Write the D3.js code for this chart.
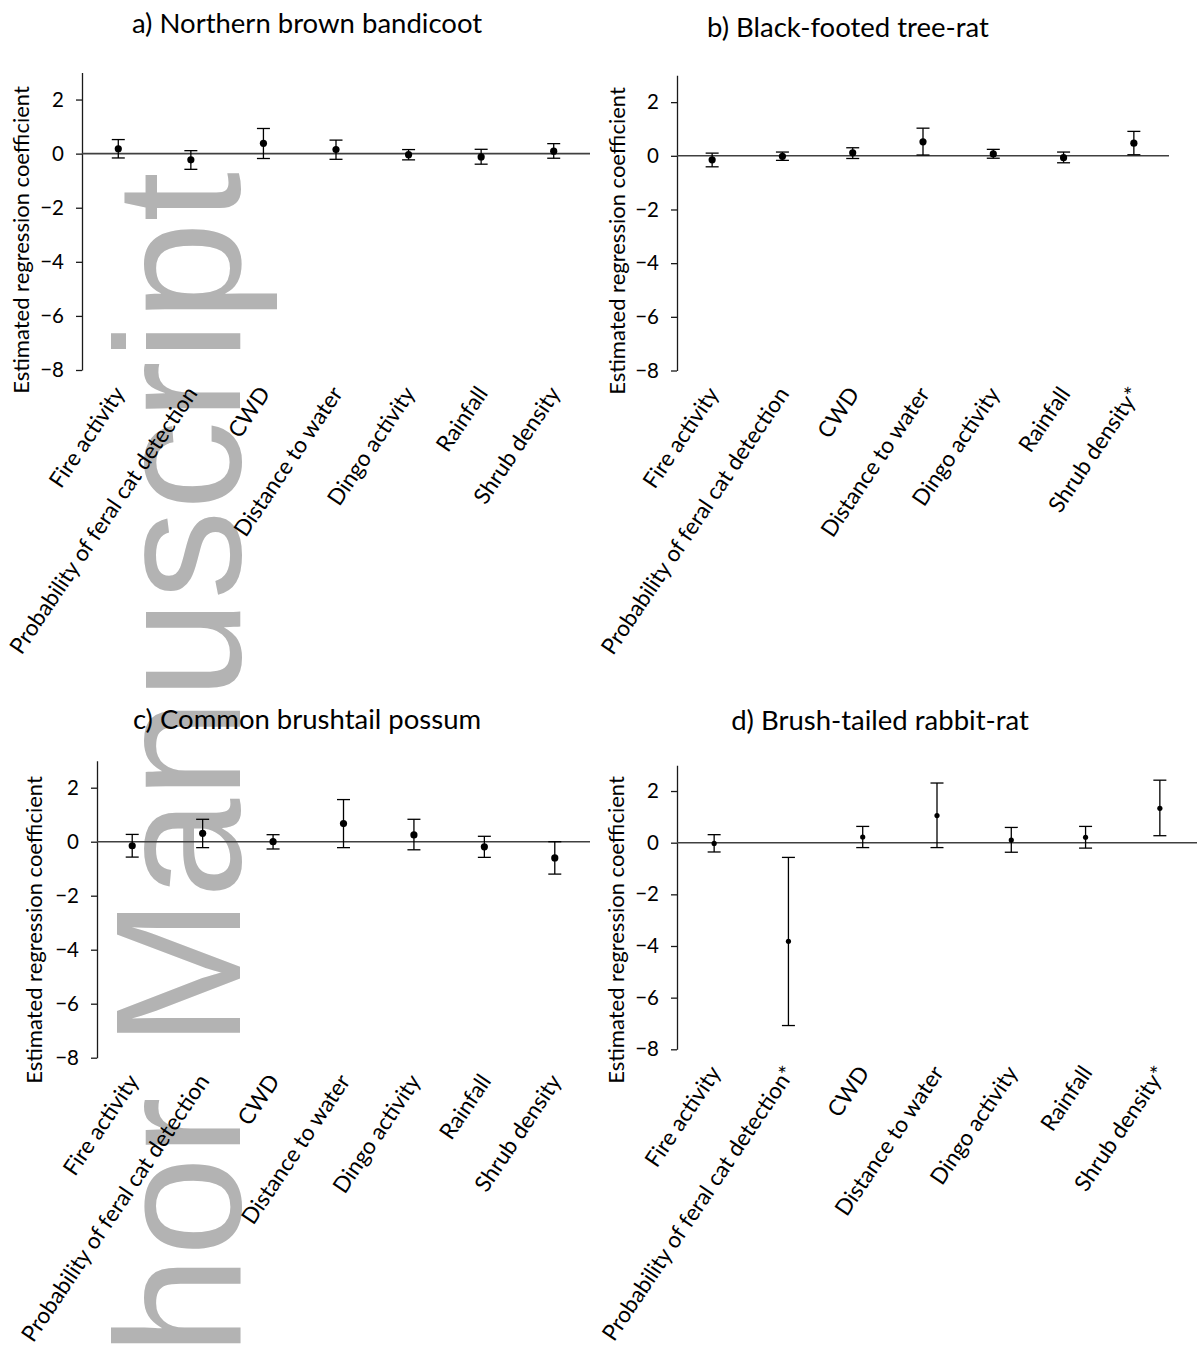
<!DOCTYPE html>
<html>
<head>
<meta charset="utf-8">
<script src="https://cdn.jsdelivr.net/npm/d3@7"></script>
<style>
  html, body { margin: 0; padding: 0; background: #fff; }
  svg { display: block; }
</style>
</head>
<body>
<svg id="chart" width="1198" height="1349"></svg>
<script>
// Predictor names (asterisk marks a significant effect in that species)
const labelsA = ["Fire activity", "Probability of feral cat detection", "CWD", "Distance to water", "Dingo activity", "Rainfall", "Shrub density"];
const labelsB = ["Fire activity", "Probability of feral cat detection", "CWD", "Distance to water", "Dingo activity", "Rainfall", "Shrub density*"];
const labelsC = ["Fire activity", "Probability of feral cat detection", "CWD", "Distance to water", "Dingo activity", "Rainfall", "Shrub density"];
const labelsD = ["Fire activity", "Probability of feral cat detection*", "CWD", "Distance to water", "Dingo activity", "Rainfall", "Shrub density*"];

// a) Northern brown bandicoot: estimate with lower / upper confidence limits
const estA  = [0.18, -0.23, 0.38, 0.15, -0.04, -0.12, 0.09];
const lowA  = [-0.16, -0.58, -0.18, -0.21, -0.23, -0.39, -0.17];
const highA = [0.52, 0.11, 0.93, 0.50, 0.15, 0.16, 0.37];

// b) Black-footed tree-rat
const estB  = [-0.15, -0.02, 0.11, 0.52, 0.07, -0.07, 0.47];
const lowB  = [-0.41, -0.17, -0.10, 0.03, -0.09, -0.26, 0.04];
const highB = [0.10, 0.14, 0.30, 1.03, 0.24, 0.14, 0.91];

// c) Common brushtail possum
const estC  = [-0.15, 0.31, 0.00, 0.67, 0.25, -0.19, -0.60];
const lowC  = [-0.57, -0.22, -0.27, -0.22, -0.30, -0.58, -1.20];
const highC = [0.27, 0.83, 0.26, 1.56, 0.83, 0.20, 0.00];

// d) Brush-tailed rabbit-rat
const estD  = [-0.03, -3.82, 0.22, 1.05, 0.10, 0.21, 1.33];
const lowD  = [-0.36, -7.08, -0.19, -0.19, -0.37, -0.21, 0.27];
const highD = [0.31, -0.57, 0.63, 2.31, 0.59, 0.63, 2.42];

const titles = ["a) Northern brown bandicoot", "b) Black-footed tree-rat", "c) Common brushtail possum", "d) Brush-tailed rabbit-rat"];
const yTicks = [-8, -6, -4, -2, 0, 2];
const yDomain = [-8, 3];
const yTitle = "Estimated regression coefficient";

// Panel geometry
const panels = [
  { labels: labelsA, est: estA, low: lowA, high: highA, title: titles[0],
    x0: 82, x1: 590, yTop: 72.5, yBot: 370, titleX: 307, titleY: 33, yLabX: 29, yLabY: 240, r: 3.6 },
  { labels: labelsB, est: estB, low: lowB, high: highB, title: titles[1],
    x0: 677, x1: 1169, yTop: 75.3, yBot: 370.5, titleX: 848, titleY: 37, yLabX: 625, yLabY: 241, r: 3.6 },
  { labels: labelsC, est: estC, low: lowC, high: highC, title: titles[2],
    x0: 97, x1: 590, yTop: 760.7, yBot: 1057.7, titleX: 307, titleY: 729, yLabX: 42, yLabY: 930, r: 3.6 },
  { labels: labelsD, est: estD, low: lowD, high: highD, title: titles[3],
    x0: 677, x1: 1197, yTop: 765.2, yBot: 1049.3, titleX: 880, titleY: 730, yLabX: 624, yLabY: 930, r: 2.6 }
];

const svg = d3.select("#chart");
const FONT = "Lato, 'Open Sans', sans-serif";

// Grey manuscript stamp running up the left side, behind the panels
svg.append("text")
  .attr("transform", "translate(240,172) rotate(-90)")
  .attr("text-anchor", "end")
  .attr("font-family", "'Liberation Sans', Arial, sans-serif")
  .attr("font-size", 179)
  .attr("fill", "#b3b3b3")
  .text("Author Manuscript");

panels.forEach(p => {
  const g = svg.append("g");
  const y = d3.scaleLinear().domain(yDomain).range([p.yBot, p.yTop]);
  const x = d3.scaleBand().domain(p.labels).range([p.x0, p.x1]);
  const rows = p.labels.map((lab, i) => ({ lab, est: p.est[i], low: p.low[i], high: p.high[i] }));

  // Title
  g.append("text")
    .attr("x", p.titleX).attr("y", p.titleY)
    .attr("text-anchor", "middle")
    .attr("font-family", FONT).attr("font-size", 27.5)
    .attr("fill", "#000")
    .text(p.title);

  // Y axis
  const yAxis = d3.axisLeft(y).tickValues(yTicks).tickSize(6).tickSizeOuter(0).tickPadding(12);
  const ax = g.append("g").attr("transform", `translate(${p.x0},0)`).call(yAxis);
  ax.select(".domain").attr("stroke", "#1a1a1a").attr("stroke-width", 1.3);
  ax.selectAll(".tick line").attr("stroke", "#1a1a1a").attr("stroke-width", 1.3);
  ax.selectAll(".tick text")
    .attr("font-family", FONT).attr("font-size", 20.5).attr("fill", "#000");

  // Y axis title
  g.append("text")
    .attr("transform", `translate(${p.yLabX},${p.yLabY}) rotate(-90)`)
    .attr("text-anchor", "middle")
    .attr("font-family", FONT).attr("font-size", 22)
    .attr("fill", "#000")
    .text(yTitle);

  // Zero reference line
  g.append("line")
    .attr("x1", p.x0).attr("x2", p.x1)
    .attr("y1", y(0)).attr("y2", y(0))
    .attr("stroke", "#404040").attr("stroke-width", 1.6);

  // Category labels, rotated
  g.selectAll("text.cat").data(rows).join("text")
    .attr("class", "cat")
    .attr("transform", d => `translate(${x(d.lab) + x.bandwidth() / 2 + 1},${p.yBot + 19}) rotate(-56)`)
    .attr("text-anchor", "end")
    .attr("dy", "0.35em")
    .attr("font-family", FONT).attr("font-size", 22.5)
    .attr("fill", "#000")
    .text(d => d.lab);

  // Error bars
  const cx = d => x(d.lab) + x.bandwidth() / 2;
  const cap = 6.5;
  const eb = g.selectAll("g.eb").data(rows).join("g").attr("class", "eb")
    .attr("stroke", "#000").attr("stroke-width", 1.3);
  eb.append("line").attr("x1", cx).attr("x2", cx).attr("y1", d => y(d.low)).attr("y2", d => y(d.high));
  eb.append("line").attr("x1", d => cx(d) - cap).attr("x2", d => cx(d) + cap).attr("y1", d => y(d.high)).attr("y2", d => y(d.high));
  eb.append("line").attr("x1", d => cx(d) - cap).attr("x2", d => cx(d) + cap).attr("y1", d => y(d.low)).attr("y2", d => y(d.low));

  // Point estimates
  g.selectAll("circle.pt").data(rows).join("circle")
    .attr("class", "pt")
    .attr("cx", cx).attr("cy", d => y(d.est))
    .attr("r", p.r).attr("fill", "#000");
});
</script>
</body>
</html>
